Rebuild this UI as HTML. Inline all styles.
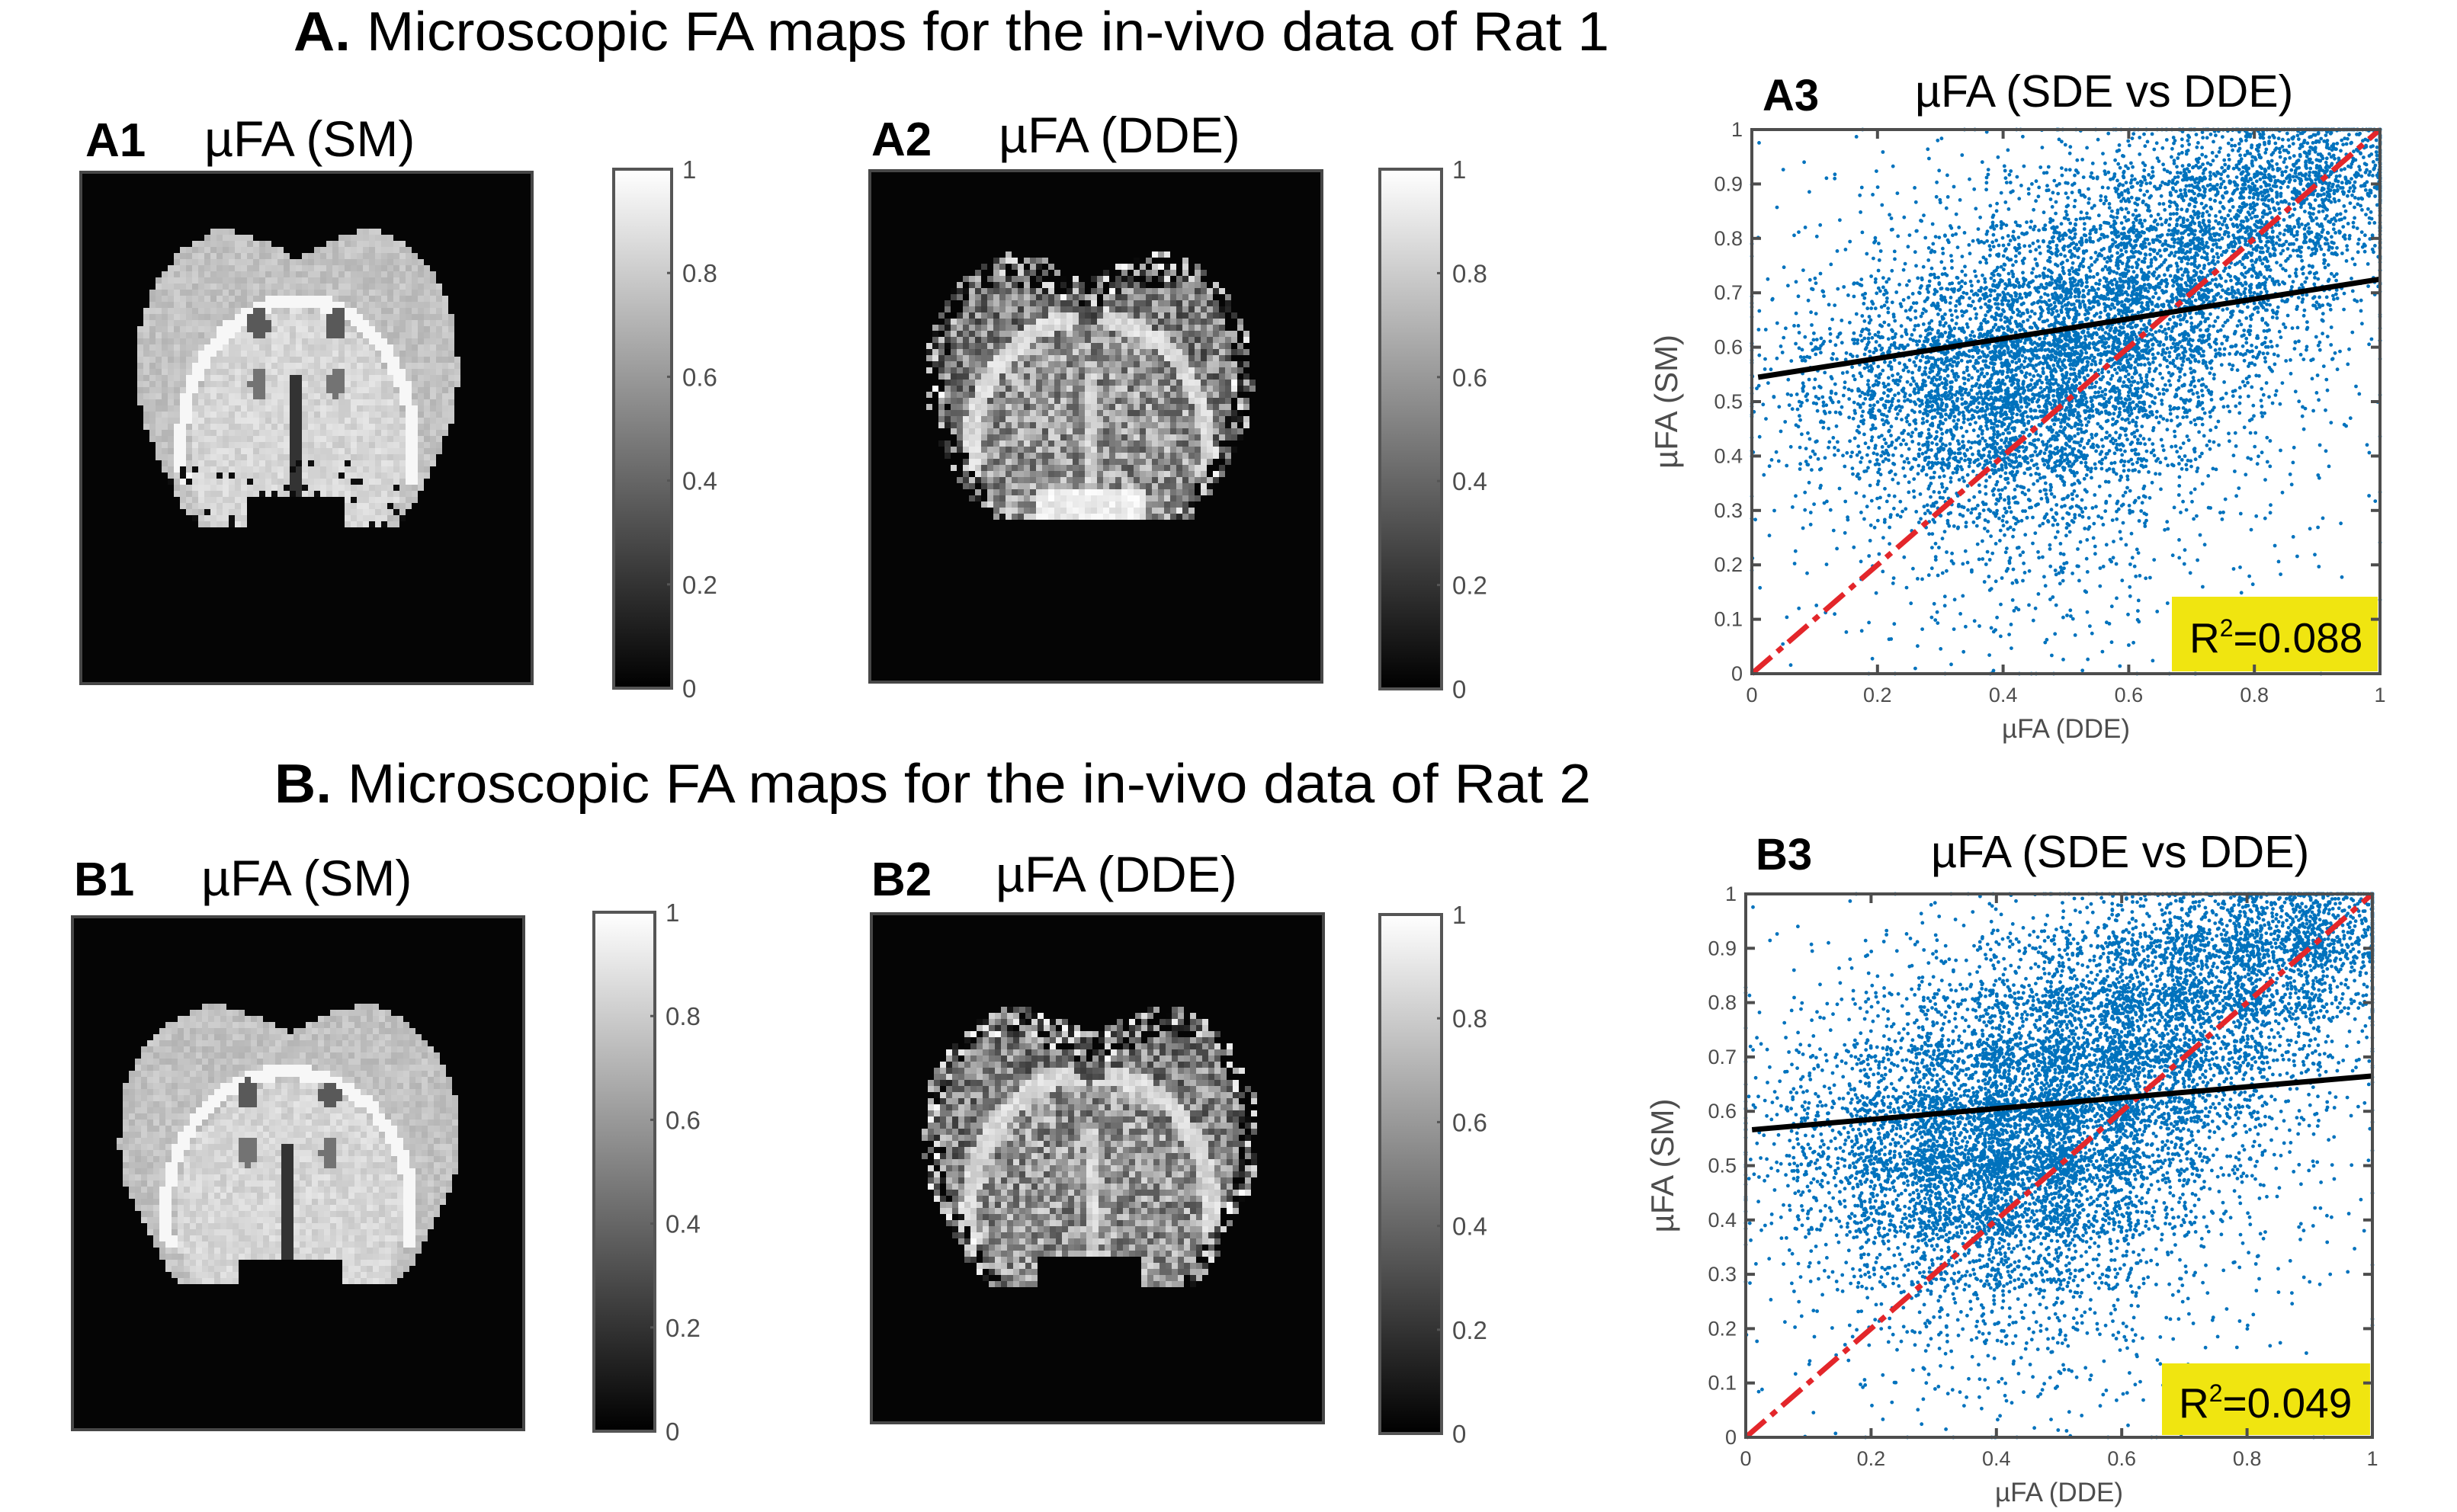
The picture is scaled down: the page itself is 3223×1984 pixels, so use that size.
<!DOCTYPE html>
<html><head><meta charset="utf-8">
<style>
html,body{margin:0;padding:0;background:#fff;}
body{width:3223px;height:1984px;position:relative;overflow:hidden;font-family:"Liberation Sans",sans-serif;}
svg{position:absolute;left:0;top:0;}
.img{position:absolute;box-sizing:border-box;border:4px solid #474747;background:#050505;}
.img canvas{display:block;image-rendering:pixelated;}
</style></head>
<body>
<svg id="main" width="3223" height="1984" xmlns="http://www.w3.org/2000/svg" font-family="Liberation Sans, sans-serif">
  <defs>
    <linearGradient id="gray" x1="0" y1="1" x2="0" y2="0">
      <stop offset="0" stop-color="#000"/><stop offset="1" stop-color="#fff"/>
    </linearGradient>
  </defs>
  <text x="385" y="66" font-size="72" textLength="1726" lengthAdjust="spacingAndGlyphs" fill="#000"><tspan font-weight="bold">A.</tspan> Microscopic FA maps for the in-vivo data of Rat 1</text>
  <text x="360" y="1053" font-size="72" textLength="1727" lengthAdjust="spacingAndGlyphs" fill="#000"><tspan font-weight="bold">B.</tspan> Microscopic FA maps for the in-vivo data of Rat 2</text>

  <text x="112" y="205" font-size="62" font-weight="bold">A1</text>
  <text x="268" y="205" font-size="66">µFA (SM)</text>
  <text x="1143" y="204" font-size="62" font-weight="bold">A2</text>
  <text x="1310" y="200" font-size="66">µFA (DDE)</text>
  <text x="2312" y="145" font-size="58" font-weight="bold">A3</text>
  <text x="2512" y="140" font-size="59">µFA (SDE vs DDE)</text>

  <text x="97" y="1175" font-size="62" font-weight="bold">B1</text>
  <text x="264" y="1175" font-size="66">µFA (SM)</text>
  <text x="1143" y="1175" font-size="62" font-weight="bold">B2</text>
  <text x="1306" y="1170" font-size="66">µFA (DDE)</text>
  <text x="2303" y="1141" font-size="58" font-weight="bold">B3</text>
  <text x="2533" y="1138" font-size="59">µFA (SDE vs DDE)</text>
  <g id="layer"></g>
</svg>

<div class="img" style="left:104px;top:224px;width:596px;height:675px"><canvas id="cA1"></canvas></div>
<div class="img" style="left:1139px;top:222px;width:597px;height:675px"><canvas id="cA2"></canvas></div>
<div class="img" style="left:93px;top:1201px;width:596px;height:677px"><canvas id="cB1"></canvas></div>
<div class="img" style="left:1141px;top:1197px;width:597px;height:672px"><canvas id="cB2"></canvas></div>

<script>
// ---------- chart data ----------
const xTicks = [0, 0.2, 0.4, 0.6, 0.8, 1];
const xTickLabels = ["0", "0.2", "0.4", "0.6", "0.8", "1"];
const yTicks = [0, 0.1, 0.2, 0.3, 0.4, 0.5, 0.6, 0.7, 0.8, 0.9, 1];
const yTickLabels = ["0", "0.1", "0.2", "0.3", "0.4", "0.5", "0.6", "0.7", "0.8", "0.9", "1"];
const cbarTicks = [0, 0.2, 0.4, 0.6, 0.8, 1];
const cbarTickLabels = ["0", "0.2", "0.4", "0.6", "0.8", "1"];
// density grid rows (y from 0.9-1.0 down to 0-0.1), columns x 0-0.1 .. 0.9-1.0 : point counts
const densityA3 = [
 [3,4,6,10,20,40,80,160,260,300],
 [4,8,15,30,60,110,180,250,230,150],
 [8,15,40,80,150,230,280,250,150,60],
 [25,50,120,200,300,330,280,170,70,25],
 [40,100,220,320,380,300,180,80,30,10],
 [30,70,160,260,290,200,100,40,15,8],
 [12,30,70,120,140,90,40,15,10,6],
 [6,12,25,45,55,40,15,8,6,4],
 [3,6,12,20,25,20,10,6,5,3],
 [2,4,8,12,14,12,8,4,3,3]
];
const densityB3 = [
 [2,4,8,15,30,60,120,220,330,350],
 [5,10,25,50,100,170,250,300,250,150],
 [10,30,70,140,220,280,300,230,130,50],
 [30,70,160,270,350,350,260,150,60,20],
 [50,130,280,400,430,330,180,80,30,10],
 [35,100,230,340,360,250,110,40,15,8],
 [15,45,110,170,170,110,45,18,10,6],
 [6,18,40,65,70,50,20,10,6,4],
 [3,8,15,25,30,22,12,6,4,3],
 [2,4,8,12,14,10,6,4,3,2]
];
const fitA3 = [0.543, 0.725];   // fit line y at x=0 and x=1
const fitB3 = [0.565, 0.665];
const identityLine = [0, 1];
const r2A3 = "0.088";
const r2B3 = "0.049";

const NS = "http://www.w3.org/2000/svg";
const layer = document.getElementById('layer');
function mk(tag, attrs, parent) {
  const e = document.createElementNS(NS, tag);
  for (const k in attrs) e.setAttribute(k, attrs[k]);
  (parent || layer).appendChild(e);
  return e;
}
function halton(i, b) { let f = 1, r = 0; while (i > 0) { f /= b; r += f * (i % b); i = Math.floor(i / b); } return r; }
const clamp01 = v => Math.max(0, Math.min(1, v));

function scatter(name, box, density, fit, r2, yLabelX, xLabelY, r2box) {
  const g = mk('g', {});
  
  
  const sx = v => box.l + v * (box.r - box.l);
  const sy = v => box.b - v * (box.b - box.t);
  const pts = mk('g', { fill: '#0072BD' }, g);
  
  
  let n = 1;
  for (let row = 0; row < density.length; row++) {
    for (let col = 0; col < density[row].length; col++) {
      const cnt = density[row][col];
      const y0 = (density.length - 1 - row) / 10;
      for (let k = 0; k < cnt; k++) {
        // spread each cell's points over a softened neighbourhood (1.6x cell) to avoid block edges
        const hx = halton(n, 2), hy = halton(n, 3), hs = halton(n, 5);
        const spread = 0.3 + 0.6 * hs;
        const xv = clamp01((col + 0.5 + (hx - 0.5) * (1 + spread)) / 10);
        const yv = clamp01(y0 + (0.5 + (hy - 0.5) * (1 + spread)) / 10);
        n++;
        mk('circle', { cx: sx(xv).toFixed(1), cy: sy(yv).toFixed(1), r: 2.4 }, pts);
      }
    }
  }
  const idl = mk('line', { x1: sx(identityLine[0]), y1: sy(identityLine[0]), x2: sx(identityLine[1]), y2: sy(identityLine[1]), stroke: '#E3262A', 'stroke-width': 7, 'stroke-dasharray': '34 10 9 10' }, g);
  
  
  const fl = mk('line', { x1: sx(0.01), y1: sy(fit[0] + 0.01 * (fit[1] - fit[0])), x2: sx(1), y2: sy(fit[1]), stroke: '#000', 'stroke-width': 7 }, g);
  
  
  const rb = mk('rect', { x: r2box.x, y: r2box.y, width: box.r - 3 - r2box.x, height: box.b - 3 - r2box.y, fill: '#F0E510' }, g);
  
  
  const rt = mk('text', { x: r2box.tx, y: r2box.ty, 'font-size': 55, fill: '#000' }, g);
  
  
  rt.innerHTML = 'R<tspan font-size="32" dy="-21">2</tspan><tspan dy="21">=' + r2 + '</tspan>';
  const ax = mk('g', { stroke: '#4d4d4d', 'stroke-width': 4, fill: 'none' }, g);
  
  
  mk('rect', { x: box.l, y: box.t, width: box.r - box.l, height: box.b - box.t }, ax);
  xTicks.forEach((v, i) => {
    mk('line', { x1: sx(v), y1: box.b, x2: sx(v), y2: box.b - 12 }, ax);
    mk('line', { x1: sx(v), y1: box.t, x2: sx(v), y2: box.t + 12 }, ax);
    const t = mk('text', { x: sx(v), y: box.b + 37, 'font-size': 27, 'text-anchor': 'middle', fill: '#4d4d4d' }, g);
    
    
    t.textContent = xTickLabels[i];
  });
  yTicks.forEach((v, i) => {
    mk('line', { x1: box.l, y1: sy(v), x2: box.l + 12, y2: sy(v) }, ax);
    mk('line', { x1: box.r, y1: sy(v), x2: box.r - 12, y2: sy(v) }, ax);
    const t = mk('text', { x: box.l - 12, y: sy(v) + 9, 'font-size': 27, 'text-anchor': 'end', fill: '#4d4d4d' }, g);
    
    
    t.textContent = yTickLabels[i];
  });
  const xl = mk('text', { x: (box.l + box.r) / 2, y: xLabelY, 'font-size': 35, 'text-anchor': 'middle', fill: '#4d4d4d' }, g);
  
  
  xl.textContent = 'µFA (DDE)';
  const cy = (box.t + box.b) / 2;
  const yl = mk('text', { x: yLabelX, y: cy, 'font-size': 42, 'text-anchor': 'middle', fill: '#4d4d4d', transform: 'rotate(-90 ' + yLabelX + ' ' + cy + ')' }, g);
  
  
  yl.textContent = 'µFA (SM)';
}

scatter('scatter-a3', { l: 2298, r: 3122, t: 170, b: 884 }, densityA3, fitA3, r2A3, 2200, 968,
  { x: 2849, y: 783, tx: 2872, ty: 856 });
scatter('scatter-b3', { l: 2290, r: 3112, t: 1173, b: 1886 }, densityB3, fitB3, r2B3, 2195, 1970,
  { x: 2836, y: 1789, tx: 2858, ty: 1860 });

function colorbar(name, l, r, t, b) {
  const g = mk('g', {});
  
  
  mk('rect', { x: l, y: t, width: r - l, height: b - t, fill: 'url(#gray)', stroke: '#555', 'stroke-width': 4 }, g);
  cbarTicks.forEach((v, i) => {
    const y = b - v * (b - t);
    if (v > 0 && v < 1) mk('line', { x1: r - 6, y1: y, x2: r, y2: y, stroke: '#555', 'stroke-width': 3 }, g);
    const tx = mk('text', { x: r + 14, y: y + 12, 'font-size': 33, fill: '#4d4d4d' }, g);
    
    
    tx.textContent = cbarTickLabels[i];
  });
}
colorbar('colorbar-a1', 805, 881, 222, 903);
colorbar('colorbar-a2', 1810, 1891, 222, 904);
colorbar('colorbar-b1', 779, 859, 1197, 1878);
colorbar('colorbar-b2', 1810, 1891, 1200, 1881);

// ---------- brain map textures ----------
function hash(i, j, s) { const v = Math.sin(i * 12.9898 + j * 78.233 + s * 37.719) * 43758.5453; return v - Math.floor(v); }
function prof(v) {
  const p = [[0, 0.5], [0.06, 0.7], [0.15, 0.85], [0.3, 0.97], [0.5, 1], [0.65, 0.96], [0.8, 0.84], [0.92, 0.74], [1, 0.62]];
  for (let k = 1; k < p.length; k++) if (v <= p[k][0]) { const a = p[k - 1], c = p[k]; return a[1] + (c[1] - a[1]) * (v - a[0]) / (c[0] - a[0]); }
  return 0.62;
}
function brain(id, opt) {
  const cv = document.getElementById(id);
  const box = cv.parentElement;
  const W = box.clientWidth, H = box.clientHeight;
  cv.width = W; cv.height = H;
  const ctx = cv.getContext('2d');
  ctx.fillStyle = '#050505'; ctx.fillRect(0, 0, W, H);
  const bs = 8;
  const x0 = opt.x0 * W, x1 = opt.x1 * W, y0 = opt.y0 * H, y1 = opt.y1 * H;
  const cx = (x0 + x1) / 2, hw = (x1 - x0) / 2;
  for (let j = 0; j * bs < H; j++) for (let i = 0; i * bs < W; i++) {
    const px = i * bs + bs / 2, py = j * bs + bs / 2;
    const u = (px - cx) / hw, v = (py - y0) / (y1 - y0);
    if (v < 0 || v > 1) continue;
    const au = Math.abs(u);
    const w = prof(v);
    if (au > w) continue;
    const top = au < 0.45 ? 0.1 * Math.pow((0.45 - au) / 0.45, 1.5) : 0;
    if (v < top) continue;
    if (v > 0.9 && au < 0.3 && !opt.whiteBottom) continue;
    const h = hash(i, j, opt.seed);
    const edge = Math.min(w - au, v - top);
    const d = Math.sqrt(Math.pow(u / 0.72, 2) + Math.pow((v - 0.74) / 0.5, 2));
    let g;
    if (opt.noisy) {
      g = 0.5 + (h - 0.5) * 0.55;
      if (d < 0.93) g += 0.08;
      if (Math.abs(d - 1) < 0.07 && v < 0.85) g = 0.78 + h * 0.15;
      if (u * u / 0.01 + Math.pow(v - 0.17, 2) / 0.012 < 1) g = 0.2 + h * 0.2;
      if (au < 0.04 && v > 0.45) g = 0.72 + h * 0.2;
      if (edge < 0.12) { if (h < 0.3) continue; g = hash(j, i, opt.seed + 3); }
      if (opt.whiteBottom && v > 0.9 && au < 0.33) g = 0.85 + h * 0.15;
    } else {
      g = 0.76 + (h - 0.5) * 0.12;
      if (d < 0.93) g = 0.84 + (h - 0.5) * 0.12;
      if (Math.abs(d - 1) < 0.05 && v < 0.86) g = 0.97;
      if (Math.pow(au - 0.24, 2) / 0.004 + Math.pow(v - 0.32, 2) / 0.003 < 1) g = 0.35;
      if (Math.pow(au - 0.24, 2) / 0.003 + Math.pow(v - 0.52, 2) / 0.003 < 1) g = 0.45;
      if (au < 0.03 && v > 0.5) g = 0.2;
      if (opt.dots && v > 0.78 && h < 0.1) g = 0.05;
    }
    g = Math.max(0, Math.min(1, g));
    const c = Math.round(g * 255);
    ctx.fillStyle = 'rgb(' + c + ',' + c + ',' + c + ')';
    ctx.fillRect(i * bs, j * bs, bs, bs);
  }
}
brain('cA1', { x0: 0.12, x1: 0.84, y0: 0.11, y1: 0.69, seed: 1, dots: true });
brain('cA2', { x0: 0.12, x1: 0.85, y0: 0.16, y1: 0.68, seed: 2, noisy: true, whiteBottom: true });
brain('cB1', { x0: 0.10, x1: 0.86, y0: 0.17, y1: 0.72, seed: 3 });
brain('cB2', { x0: 0.11, x1: 0.86, y0: 0.18, y1: 0.73, seed: 4, noisy: true });
</script>
</body></html>
